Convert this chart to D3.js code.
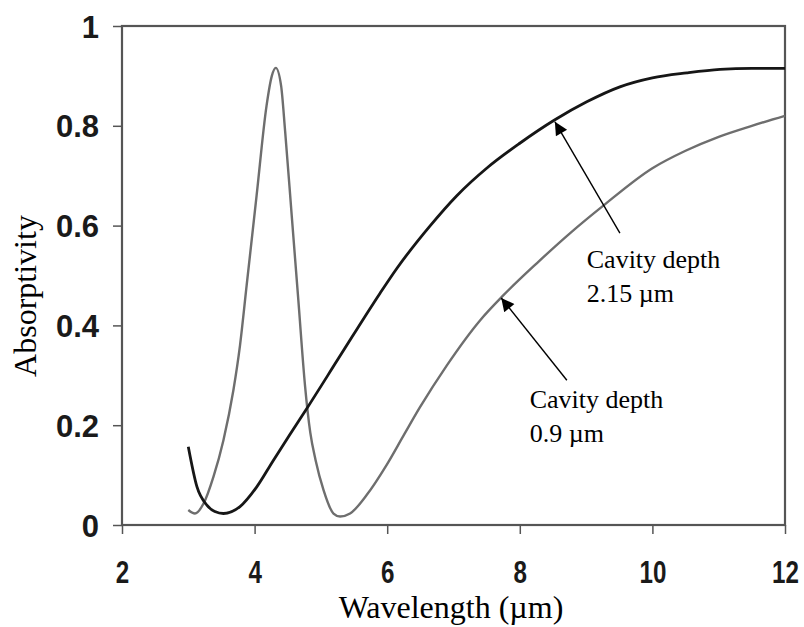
<!DOCTYPE html>
<html>
<head>
<meta charset="utf-8">
<script src="https://cdn.jsdelivr.net/npm/d3@7"></script>
<style>
  html, body { margin: 0; padding: 0; background: #fff; }
  svg { display: block; }
  .tick-label { font-family: "Liberation Sans", Arial, sans-serif; font-weight: bold; font-size: 31px; fill: #1a1a1a; }
  .title { font-family: "Liberation Serif", "Times New Roman", serif; font-size: 32px; fill: #000; }
  .note { font-family: "Liberation Serif", "Times New Roman", serif; font-size: 26px; fill: #000; }
</style>
</head>
<body>
<svg id="chart" width="804" height="627"></svg>
<script>
// Absorptivity spectra for two cavity depths
const wavelengthDeep = [3.0, 3.13, 3.28, 3.4, 3.53, 3.78, 4.03, 4.28, 4.53, 4.79, 5.29, 5.89, 6.15, 6.65, 7.05, 7.5, 8.0, 8.53, 9.01, 9.51, 10.0, 10.52, 11.02, 11.5, 12.0];
const absorptivityDeep = [0.157, 0.077, 0.040, 0.027, 0.023, 0.037, 0.076, 0.129, 0.181, 0.234, 0.339, 0.464, 0.515, 0.60, 0.66, 0.715, 0.765, 0.812, 0.848, 0.878, 0.896, 0.906, 0.913, 0.915, 0.915];

const wavelengthShallow = [3.0, 3.1, 3.23, 3.38, 3.53, 3.68, 3.78, 3.88, 4.03, 4.18, 4.26, 4.32, 4.40, 4.46, 4.56, 4.66, 4.76, 4.84, 4.92, 5.04, 5.19, 5.29, 5.44, 5.69, 5.99, 6.25, 6.49, 6.9, 7.4, 7.75, 8.26, 8.76, 9.26, 10.0, 10.5, 11.0, 11.5, 12.0];
const absorptivityShallow = [0.030, 0.023, 0.043, 0.097, 0.17, 0.27, 0.36, 0.48, 0.66, 0.84, 0.90, 0.916, 0.88, 0.79, 0.62, 0.45, 0.28, 0.185, 0.13, 0.07, 0.023, 0.017, 0.023, 0.06, 0.12, 0.18, 0.235, 0.32, 0.41, 0.46, 0.525, 0.585, 0.64, 0.715, 0.75, 0.778, 0.80, 0.82];

const xTicks = [2, 4, 6, 8, 10, 12];
const yTicks = [0, 0.2, 0.4, 0.6, 0.8, 1];
const yTickLabels = ["0", "0.2", "0.4", "0.6", "0.8", "1"];

// Callouts: text anchor and arrow tail/tip, in data units
const noteLines = [["Cavity depth", "2.15 \u00b5m"], ["Cavity depth", "0.9 \u00b5m"]];
const noteAnchor = [[9.01, 0.515], [8.15, 0.234]];
const arrowTail = [[9.51, 0.585], [8.71, 0.29]];
const arrowTip = [[8.53, 0.808], [7.72, 0.455]];

const svg = d3.select("#chart");
const x = d3.scaleLinear().domain([2, 12]).range([122, 785]);
const y = d3.scaleLinear().domain([0, 1]).range([525, 26]);

const frameColor = "#555";

// axes
const xAxis = svg.append("g").attr("transform", `translate(0,${y(0)})`)
  .call(d3.axisBottom(x).tickValues(xTicks).tickSize(9).tickSizeOuter(0).tickPadding(27).tickFormat(d3.format("d")));
xAxis.select(".domain").remove();
xAxis.selectAll(".tick line").attr("stroke", frameColor).attr("stroke-width", 1.5);
// condensed digits on the wavelength axis
xAxis.selectAll(".tick text").attr("class", "tick-label").attr("font-size", null).attr("font-family", null)
  .attr("dy", "0.72em").attr("transform", "scale(0.78,1)");

const yAxis = svg.append("g").attr("transform", `translate(${x(2)},0)`)
  .call(d3.axisLeft(y).tickValues(yTicks).tickSize(9).tickSizeOuter(0).tickPadding(14).tickFormat((d, i) => yTickLabels[i]));
yAxis.select(".domain").remove();
yAxis.selectAll(".tick line").attr("stroke", frameColor).attr("stroke-width", 1.5);
yAxis.selectAll(".tick text").attr("class", "tick-label").attr("font-size", null).attr("font-family", null).attr("dy", "0.36em");

// plot frame
svg.append("rect")
  .attr("x", x(2)).attr("y", y(1))
  .attr("width", x(12) - x(2)).attr("height", y(0) - y(1))
  .attr("fill", "none").attr("stroke", frameColor).attr("stroke-width", 2.2);

// curves
const line = d3.line().x(d => x(d[0])).y(d => y(d[1])).curve(d3.curveMonotoneX);
svg.append("path")
  .datum(wavelengthShallow.map((w, i) => [w, absorptivityShallow[i]]))
  .attr("d", line).attr("fill", "none").attr("stroke", "#6e6e6e").attr("stroke-width", 2.4)
  .attr("stroke-linejoin", "round");
svg.append("path")
  .datum(wavelengthDeep.map((w, i) => [w, absorptivityDeep[i]]))
  .attr("d", line).attr("fill", "none").attr("stroke", "#161616").attr("stroke-width", 2.8)
  .attr("stroke-linejoin", "round");

// arrow marker
svg.append("defs").append("marker")
  .attr("id", "head").attr("viewBox", "0 0 10 10")
  .attr("refX", 10).attr("refY", 5)
  .attr("markerWidth", 16).attr("markerHeight", 13)
  .attr("markerUnits", "userSpaceOnUse")
  .attr("orient", "auto")
  .append("path").attr("d", "M0,0L10,5L0,10Z").attr("fill", "#000");

arrowTail.forEach((t, i) => {
  svg.append("line")
    .attr("x1", x(t[0])).attr("y1", y(t[1]))
    .attr("x2", x(arrowTip[i][0])).attr("y2", y(arrowTip[i][1]))
    .attr("stroke", "#000").attr("stroke-width", 1.4)
    .attr("marker-end", "url(#head)");
});

noteLines.forEach((lines, i) => {
  const t = svg.append("text").attr("class", "note")
    .attr("x", x(noteAnchor[i][0])).attr("y", y(noteAnchor[i][1]));
  lines.forEach((s, j) => {
    t.append("tspan").attr("x", x(noteAnchor[i][0])).attr("dy", j === 0 ? 0 : 34).text(s);
  });
});

// axis titles
svg.append("text").attr("class", "title")
  .attr("x", 451).attr("y", 618).attr("text-anchor", "middle")
  .text("Wavelength (\u00b5m)");
svg.append("text").attr("class", "title")
  .attr("transform", "translate(36,296) rotate(-90)").attr("text-anchor", "middle")
  .text("Absorptivity");
</script>
</body>
</html>
